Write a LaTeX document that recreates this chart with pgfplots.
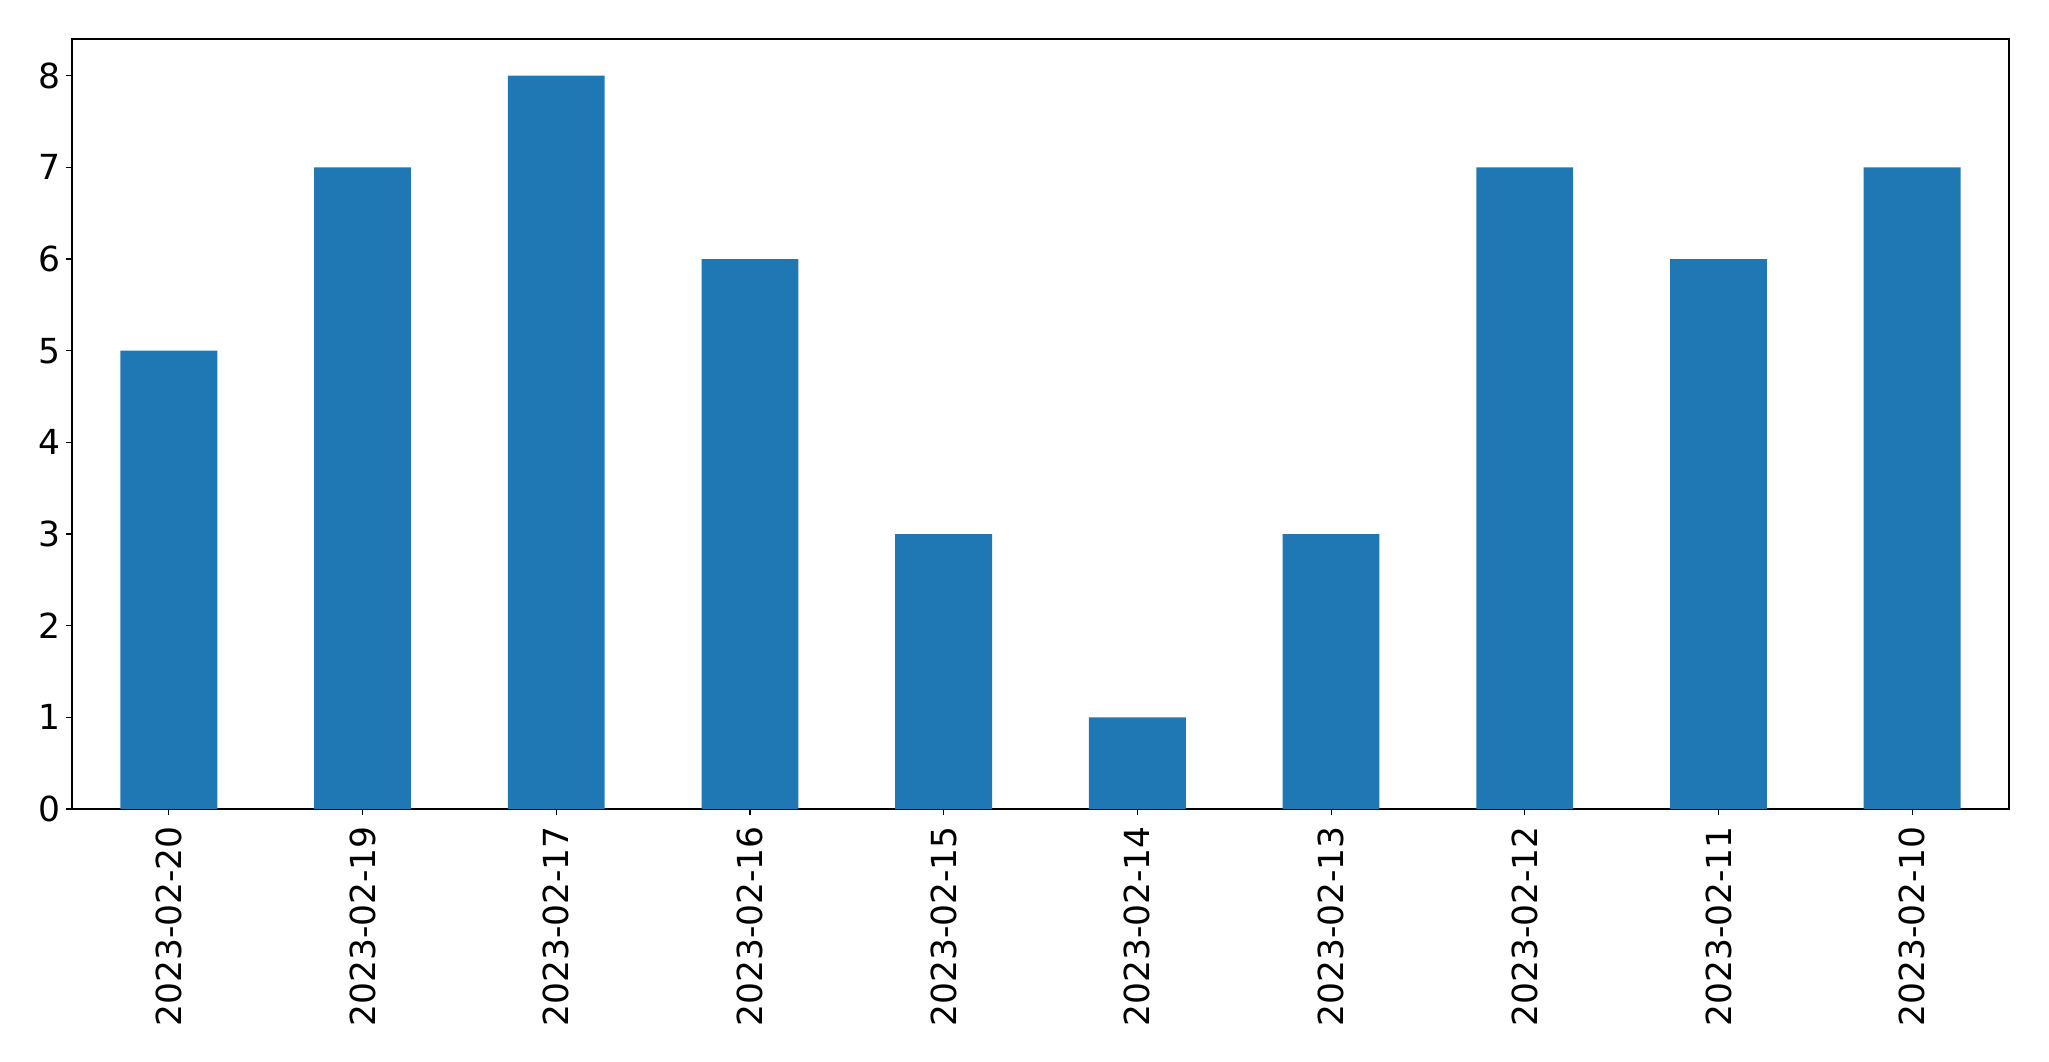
\documentclass[border=0pt]{standalone}
\usepackage{fontspec}
\setmainfont{DejaVu Sans}
\usepackage{pgfplots}
\pgfplotsset{compat=1.18}
\definecolor{barblue}{HTML}{1F77B4}
\begin{document}
\begin{tikzpicture}
\begin{axis}[
  scale only axis,
  width=1937pt, height=770pt,
  xmin=-0.5, xmax=9.5,
  ymin=0, ymax=8.4,
  axis line style={line width=1.1pt, black},
  xtick={0,1,2,3,4,5,6,7,8,9},
  xticklabels={2023-02-20,2023-02-19,2023-02-17,2023-02-16,2023-02-15,2023-02-14,2023-02-13,2023-02-12,2023-02-11,2023-02-10},
  ytick={0,1,2,3,4,5,6,7,8},
  tick align=outside,
  major tick length=6pt,
  tick style={line width=1.1pt, black},
  xtick pos=bottom, ytick pos=left,
  /pgf/number format/assume math mode=true,
  ticklabel style={font=\fontsize{34.5}{40}\selectfont},
  x tick label style={rotate=90, anchor=east, inner sep=0pt, xshift=-11pt},
  y tick label style={inner sep=0pt, xshift=-5pt},
]
\addplot[ybar, bar width=0.5, fill=barblue, draw=none] coordinates {
 (0,5) (1,7) (2,8) (3,6) (4,3) (5,1) (6,3) (7,7) (8,6) (9,7)
};
\end{axis}
\path ([xshift=-72pt,yshift=-252pt]current axis.south west) rectangle ([xshift=40pt,yshift=39pt]current axis.north east);
\end{tikzpicture}
\end{document}
